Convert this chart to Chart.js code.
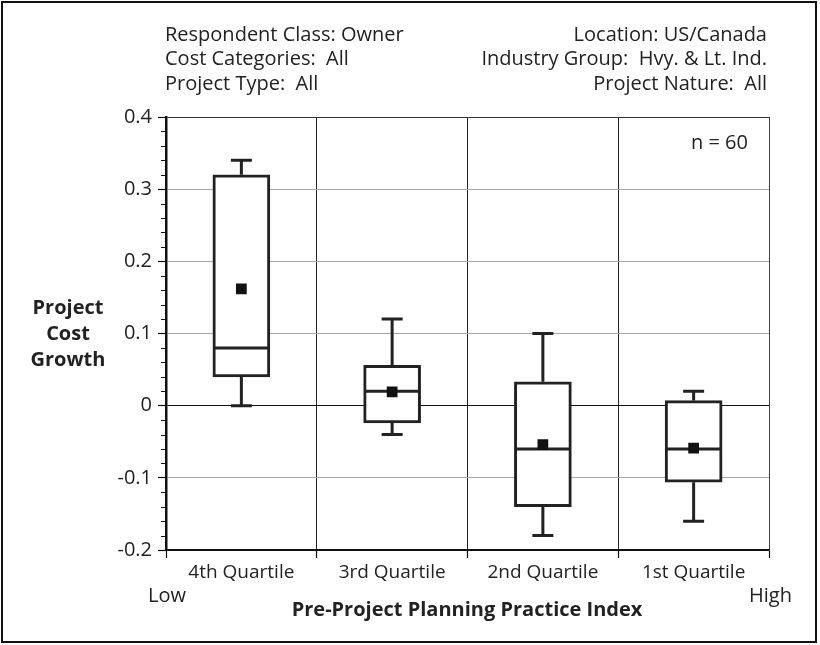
<!DOCTYPE html>
<html>
<head>
<meta charset="utf-8">
<title>Project Cost Growth by Pre-Project Planning Practice Index</title>
<script src="https://cdn.jsdelivr.net/npm/chart.js@4.4.1/dist/chart.umd.min.js"></script>
<style>
  html, body { margin: 0; padding: 0; background: #fff; }
  #wrap { position: relative; width: 820px; height: 645px; overflow: hidden; }
  #chart { position: absolute; left: 0; top: 0; }
  .frame { position: absolute; left: 1px; top: 1px; width: 816px; height: 642px;
           border: 2px solid #111; box-sizing: border-box; pointer-events: none; }
  .txt { position: absolute; font-family: 'Open Sans', sans-serif; font-size: 20px;
         line-height: 24.5px; color: #222; white-space: pre; }
  .bold { font-weight: bold; }
</style>
</head>
<body>
<div id="wrap">
  <canvas id="chart" width="820" height="645"></canvas>
  <div class="txt" style="left:165px; top:21.5px;">Respondent Class: Owner
Cost Categories:  All
Project Type:  All</div>
  <div class="txt" style="right:53px; top:21.5px; text-align:right;">Location: US/Canada
Industry Group:  Hvy. &amp; Lt. Ind.
Project Nature:  All</div>
  <div class="txt" style="right:72px; top:130px; text-align:right;">n = 60</div>
  <div class="txt bold" style="left:18px; width:100px; top:294px; line-height:26px; text-align:center;">Project
Cost
Growth</div>
  <div class="txt" style="left:148px; top:583px;">Low</div>
  <div class="txt" style="left:749px; top:583px;">High</div>
  <div class="txt bold" style="left:217px; width:500px; top:597px; text-align:center;">Pre-Project Planning Practice Index</div>
  <div class="frame"></div>
</div>
<script>
// Quartile groups of the planning practice index
const categories = ['4th Quartile', '3rd Quartile', '2nd Quartile', '1st Quartile'];

// Box-plot statistics of project cost growth for each group
const whiskerLow  = [0.00, -0.040, -0.180, -0.160];
const quartile1   = [0.04, -0.024, -0.140, -0.106];
const medians     = [0.08,  0.020, -0.060, -0.060];
const quartile3   = [0.32,  0.056,  0.033,  0.007];
const whiskerHigh = [0.34,  0.120,  0.100,  0.020];
const means       = [0.162, 0.019, -0.054, -0.059];

// Value axis ticks
const yTickValues = [-0.2, -0.1, 0, 0.1, 0.2, 0.3, 0.4];
const yTickLabels = ['-0.2', '-0.1', '0', '0.1', '0.2', '0.3', '0.4'];
const yMinorStep = 0.02;

const INK = '#222';

// Whiskers and median lines, drawn right after the boxes so the mean markers sit on top
const boxWhiskers = {
  id: 'boxWhiskers',
  afterDatasetDraw(chart, args) {
    if (args.index !== 0) return;
    const ctx = chart.ctx;
    const y = chart.scales.y;
    const meta = chart.getDatasetMeta(0);
    ctx.save();
    ctx.strokeStyle = INK;
    ctx.lineWidth = 3;
    ctx.lineCap = 'butt';
    meta.data.forEach((bar, i) => {
      const x = bar.x;
      const half = bar.width / 2;
      const cap = 10.5;
      const yLo = y.getPixelForValue(whiskerLow[i]);
      const yQ1 = y.getPixelForValue(quartile1[i]);
      const yMed = y.getPixelForValue(medians[i]);
      const yQ3 = y.getPixelForValue(quartile3[i]);
      const yHi = y.getPixelForValue(whiskerHigh[i]);
      ctx.beginPath();
      ctx.moveTo(x, yQ3); ctx.lineTo(x, yHi);
      ctx.moveTo(x - cap, yHi); ctx.lineTo(x + cap, yHi);
      ctx.moveTo(x, yQ1); ctx.lineTo(x, yLo);
      ctx.moveTo(x - cap, yLo); ctx.lineTo(x + cap, yLo);
      ctx.moveTo(x - half + 1.5, yMed); ctx.lineTo(x + half - 1.5, yMed);
      ctx.stroke();
    });
    ctx.restore();
  }
};

// Short minor ticks on the outside of the value axis
const minorTicks = {
  id: 'minorTicks',
  afterDraw(chart) {
    const ctx = chart.ctx;
    const y = chart.scales.y;
    const left = chart.chartArea.left;
    const n = Math.round((y.max - y.min) / yMinorStep);
    ctx.save();
    ctx.strokeStyle = '#111';
    ctx.lineWidth = 1.2;
    ctx.beginPath();
    for (let k = 0; k <= n; k++) {
      if (k % 5 === 0) continue;
      const py = Math.round(y.getPixelForValue(y.min + k * yMinorStep)) + 0.5;
      ctx.moveTo(left - 5, py);
      ctx.lineTo(left, py);
    }
    ctx.stroke();
    ctx.restore();
  }
};

Chart.defaults.font.family = "'Open Sans', sans-serif";
Chart.defaults.color = INK;

new Chart(document.getElementById('chart'), {
  type: 'bar',
  data: {
    labels: categories,
    datasets: [
      {
        label: 'Interquartile range',
        data: categories.map((c, i) => [quartile1[i], quartile3[i]]),
        backgroundColor: '#fff',
        borderColor: INK,
        borderWidth: 3,
        borderSkipped: false,
        barThickness: 57,
        order: 2
      },
      {
        type: 'line',
        label: 'Mean',
        data: means,
        showLine: false,
        pointStyle: 'rect',
        pointRadius: 7.6,
        pointHoverRadius: 7.6,
        pointBackgroundColor: '#111',
        pointBorderColor: '#111',
        pointBorderWidth: 0,
        order: 1
      }
    ]
  },
  options: {
    responsive: false,
    animation: false,
    events: [],
    layout: { padding: { left: 0, top: 117, right: 51, bottom: 0 } },
    plugins: {
      legend: { display: false },
      tooltip: { enabled: false },
      title: { display: false }
    },
    scales: {
      x: {
        type: 'category',
        offset: true,
        afterFit(scale) { scale.height = 95; },
        grid: {
          offset: true,
          drawTicks: true,
          tickLength: 8,
          lineWidth: 1,
          tickWidth: 1.2,
          color: (ctx) => (ctx.tick ? (ctx.index === 0 ? '#111' : '#222') : '#444'),
          tickColor: '#111'
        },
        border: { display: true, color: '#111', width: 1.5 },
        ticks: {
          font: { size: 19 },
          color: INK,
          padding: 3,
          maxRotation: 0
        }
      },
      y: {
        min: -0.2,
        max: 0.4,
        afterFit(scale) { scale.width = 166; },
        afterBuildTicks(scale) { scale.ticks = yTickValues.map(v => ({ value: v })); },
        grid: {
          drawTicks: true,
          tickLength: 8,
          tickWidth: 1.2,
          lineWidth: 1,
          tickColor: '#111',
          color: (ctx) => {
            const v = ctx.tick ? ctx.tick.value : null;
            if (v === 0 || v === -0.2) return '#111';
            if (v === 0.4) return '#333';
            return '#a8a8a8';
          }
        },
        border: { display: true, color: '#111', width: 2.5 },
        ticks: {
          font: { size: 20 },
          color: INK,
          padding: 6,
          callback: (value, index) => yTickLabels[index]
        }
      }
    }
  },
  plugins: [boxWhiskers, minorTicks]
});
</script>
</body>
</html>
